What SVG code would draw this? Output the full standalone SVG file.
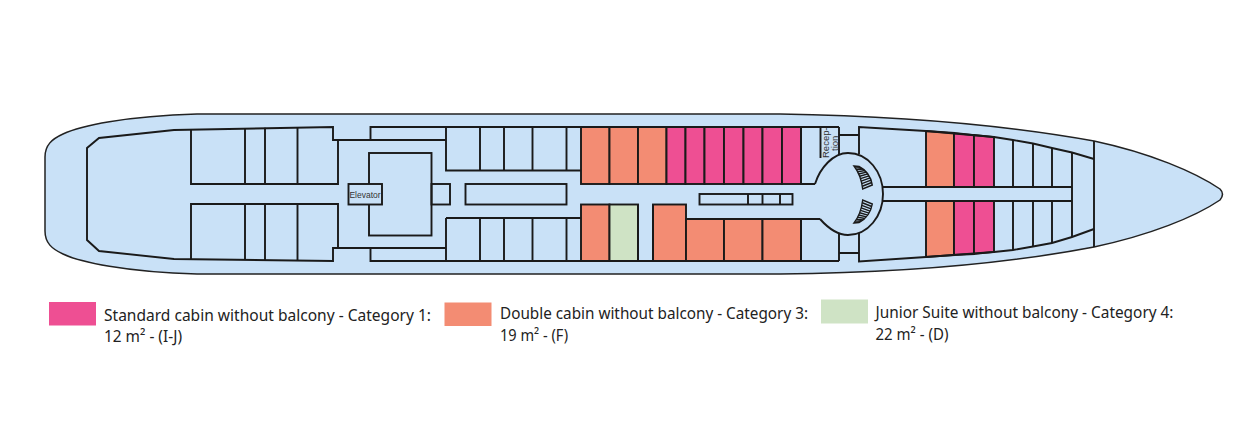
<svg xmlns="http://www.w3.org/2000/svg" width="1260" height="428" viewBox="0 0 1260 428">
<style>
.w{fill:none;stroke:#1a1a1a;stroke-width:1.9;stroke-linejoin:miter}
.o{fill:#f38c73}.p{fill:#ee4f93}.g{fill:#cfe3c5}
.r{stroke:#1a1a1a;stroke-width:1.9}
.lg{font-family:"Noto Sans","Open Sans",sans-serif;font-size:16.5px;fill:#222}
.sm{font-family:"Liberation Sans",sans-serif;font-size:8.5px;fill:#333}
.rc{font-family:"Liberation Sans",sans-serif;font-size:9.5px;fill:#333}
.st{fill:none;stroke:#1a1a1a;stroke-width:1.4}
</style>
<defs>
<g id="fan">
<path class="st" d="M854 166L859 166.500Q870 172 872.300 185L862.700 189Q861 175 854 166Z"/>
<path class="st" d="M855.350 167.850L861.110 167.680M856.590 169.800L863.050 169M857.720 171.850L864.820 170.480M858.750 174L866.410 172.100M859.680 176.250L867.830 173.880M860.490 178.600L869.070 175.800M861.200 181.050L870.140 177.880M861.810 183.600L871.030 180.100M862.310 186.250L871.750 182.480"/>
</g>
</defs>
<rect width="1260" height="428" fill="#fff"/>
<g id="hull"><path d="M45 157C45 145 52 139 63 134C80 126 125 116 197 114L780 114C900 116 1000 124 1094 141C1150 153 1195 172 1220 189Q1225 194 1220 200C1195 217 1150 235 1094 247C1000 265 900 273 780 274L197 274C125 272 80 262 63 254C52 249 45 243 45 231Z" fill="#c9e1f7" stroke="#222" stroke-width="1.5"/>
<path class="w" d="M1094 141V247"/></g>
<g id="cabins">
<rect class="o r" x="581" y="127" width="28.500" height="57"/><rect class="o r" x="609.500" y="127" width="28.500" height="57"/><rect class="o r" x="638" y="127" width="28.500" height="57"/>
<rect class="p r" x="666.500" y="127" width="19" height="57"/><rect class="p r" x="685.500" y="127" width="19" height="57"/><rect class="p r" x="704.500" y="127" width="19.500" height="57"/><rect class="p r" x="724" y="127" width="19.500" height="57"/><rect class="p r" x="743.500" y="127" width="19" height="57"/><rect class="p r" x="762.500" y="127" width="19.500" height="57"/><rect class="p r" x="782" y="127" width="19" height="57"/>
<rect class="o r" x="581" y="204.500" width="28.500" height="56.500"/><rect class="g r" x="609.500" y="204.500" width="28.500" height="56.500"/><rect class="o r" x="653" y="204.500" width="33" height="56.500"/>
<rect class="o r" x="686" y="219" width="38" height="42"/><rect class="o r" x="724" y="219" width="38.500" height="42"/><rect class="o r" x="762.500" y="219" width="38.500" height="42"/>
<path class="o r" d="M926 131L954 133V187H926Z"/><path class="p r" d="M954 133L974 135V187H954Z"/><path class="p r" d="M974 135L994 137V187H974Z"/>
<path class="o r" d="M926 201H954V255L926 257Z"/><path class="p r" d="M954 201H974V254L954 255Z"/><path class="p r" d="M974 201H994V252L974 254Z"/>
</g>
<g id="walls">
<path class="w" d="M338 140H333V127L174 130L99 138L87 148V240L99 251L174 259L333 261V248H338"/>
<path class="w" d="M338 140V184H191V129M245 128V184M265 127.700V184M297.500 127.400V184"/>
<path class="w" d="M338 248V204H191V259.200M245 204V259.900M265 204V260.100M297.500 204V260.600"/>
<path class="w" d="M338 140H446M370.500 140V127H839M446 127V170.500H581M480 127V170.500M504 127V170.500M532.500 127V170.500M566.500 127V170.500"/>
<path class="w" d="M338 248H446M370.500 248V261H839M446 218V261M446 218H581M480 218V261M504 218V261M532.500 218V261M566.500 218V261"/>
<rect class="w" x="369" y="153" width="62.500" height="82.500"/>
<rect x="348.500" y="184" width="33.500" height="20.500" fill="#c9e1f7" stroke="#1a1a1a" stroke-width="1.900"/>
<rect class="w" x="431.500" y="184" width="18.500" height="20.500"/>
<rect class="w" x="465.500" y="184" width="101" height="20.500"/>
<path class="w" d="M801 127V184H815M801 219V261"/>
<path class="w" d="M638 204.500V261M653 204.500V261"/>
<rect class="w" x="699.500" y="194" width="93" height="10.500"/>
<path class="w" d="M748 194V204.500M762.500 194V204.500M780 194V204.500"/>
<path class="w" d="M686 219H820"/>
<path class="w" d="M815 184C820 168 833 153 848 153C868 153 883 172 883 194C883 216 868 235 848 235C837 235 828 228 820 219"/>
<path class="w" d="M820.500 127V158M839 127V155M839 135H859M839 233V261M839 253H859M859 154V127L926 131L994 137L1013 140L1033 143.500L1052 148L1072 152.500L1094 159"/>
<path class="w" d="M859 233V261.500L926 257L994 252L1013 250L1033 246.500L1052 243L1072 237L1094 229"/>
<path class="w" d="M882 187H1072M882 201H1072M1072 152.500V237"/>
<path class="w" d="M1013 140V187M1033 143.500V187M1052 148V187M1013 201V250M1033 201V246.500M1052 201V243"/>
</g>
<g id="stairs">
<use href="#fan"/>
<use href="#fan" transform="translate(0 389) scale(1 -1)"/>
</g>
<g id="labels">
<text class="sm" x="365" y="197.500" text-anchor="middle">Elevator</text>
<text class="rc" transform="translate(829 158) rotate(-90)">Recep-</text>
<text class="rc" transform="translate(838 151) rotate(-90)">tion</text>
</g>
<g id="legend">
<rect class="p" x="49" y="302" width="47" height="23.500"/>
<rect class="o" x="444.500" y="302.500" width="47" height="23.500"/>
<rect class="g" x="821" y="299.500" width="47" height="24"/>
<text class="lg" x="104" y="320.700" textLength="327" lengthAdjust="spacingAndGlyphs">Standard cabin without balcony - Category 1:</text>
<text class="lg" x="104" y="341.700" textLength="78" lengthAdjust="spacingAndGlyphs">12 m² - (I-J)</text>
<text class="lg" x="500" y="319" textLength="308" lengthAdjust="spacingAndGlyphs">Double cabin without balcony - Category 3:</text>
<text class="lg" x="500" y="341" textLength="68" lengthAdjust="spacingAndGlyphs">19 m² - (F)</text>
<text class="lg" x="875.500" y="318.300" textLength="298" lengthAdjust="spacingAndGlyphs">Junior Suite without balcony - Category 4:</text>
<text class="lg" x="875.500" y="340" textLength="73" lengthAdjust="spacingAndGlyphs">22 m² - (D)</text>
</g>
</svg>
